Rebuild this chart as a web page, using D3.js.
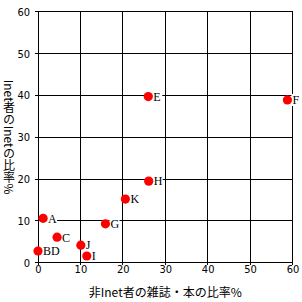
<!DOCTYPE html>
<html>
<head>
<meta charset="utf-8">
<script src="https://cdn.jsdelivr.net/npm/d3@7"></script>
<style>
  body { margin: 0; background: #fff; }
  svg { display: block; }
</style>
</head>
<body>
<svg id="chart" width="302" height="302"></svg>
<script>
// point names and values (non-Inet %, Inet %)
var names = ["A", "B", "C", "D", "E", "F", "G", "H", "I", "J", "K"];
var xVals = [1.2, 0, 4.5, 0, 26.0, 58.8, 15.9, 26.1, 11.5, 10.1, 20.6];
var yVals = [10.6, 2.8, 6.1, 2.8, 39.7, 38.9, 9.3, 19.5, 1.6, 4.2, 15.2];
var xTicks = [0, 10, 20, 30, 40, 50, 60];
var yTicks = [0, 10, 20, 30, 40, 50, 60];
var xTitle = "非Inet者の雑誌・本の比率%";
var yTitle = "Inet者のInetの比率%";

var svg = d3.select("#chart");
// plot box (window.top is taken, so use a margin object)
var m = { left: 38, right: 292.5, top: 11.7, bottom: 262.7 };

var x = d3.scaleLinear().domain([0, 60]).range([m.left, m.right]);
var y = d3.scaleLinear().domain([0, 60]).range([m.bottom, m.top]);

// grid
var grid = svg.append("g")
    .attr("stroke", "#000")
    .attr("stroke-width", 1)
    .attr("shape-rendering", "crispEdges");
grid.selectAll("line.h")
    .data(yTicks)
    .enter().append("line")
    .attr("class", "h")
    .attr("x1", m.left - 3).attr("x2", m.right)
    .attr("y1", function(d) { return y(d); })
    .attr("y2", function(d) { return y(d); });
grid.selectAll("line.v")
    .data(xTicks)
    .enter().append("line")
    .attr("class", "v")
    .attr("y1", m.top).attr("y2", m.bottom + 2)
    .attr("x1", function(d) { return x(d); })
    .attr("x2", function(d) { return x(d); });

// tick labels
var xAxis = svg.append("g")
    .attr("transform", "translate(0," + m.bottom + ")")
    .call(d3.axisBottom(x).tickValues(xTicks).tickSize(0).tickPadding(3));
var yAxis = svg.append("g")
    .attr("transform", "translate(" + m.left + ",0)")
    .call(d3.axisLeft(y).tickValues(yTicks).tickSize(0).tickPadding(8));
[xAxis, yAxis].forEach(function(a) {
    a.select(".domain").remove();
    a.selectAll("text")
        .attr("font-family", "'DejaVu Sans Condensed', 'DejaVu Sans'")
        .attr("font-size", 11)
        .attr("fill", "#000");
});

// merge labels of points sitting on the same spot (B and D)
var pts = [];
names.forEach(function(n, i) {
    var found = pts.find(function(p) { return p.x === xVals[i] && p.y === yVals[i]; });
    if (found) found.label += n;
    else pts.push({ x: xVals[i], y: yVals[i], label: n });
});

// point labels with white boxes
var lab = svg.append("g").selectAll("g")
    .data(pts)
    .enter().append("g")
    .attr("transform", function(d) { return "translate(" + (x(d.x) + 4) + "," + y(d.y) + ")"; });
lab.append("rect")
    .attr("x", 0).attr("y", -6)
    .attr("width", function(d) { return d.label.length * 8 + 2; })
    .attr("height", 12)
    .attr("fill", "#fff");
lab.append("text")
    .attr("x", 1)
    .attr("dy", "0.36em")
    .attr("font-family", "'Liberation Serif', serif")
    .attr("font-size", 12)
    .text(function(d) { return d.label; });

// points
svg.append("g").selectAll("circle")
    .data(pts)
    .enter().append("circle")
    .attr("cx", function(d) { return x(d.x); })
    .attr("cy", function(d) { return y(d.y); })
    .attr("r", 4.6)
    .attr("fill", "#ff0000");

// titles
svg.append("text")
    .attr("x", (m.left + m.right) / 2)
    .attr("y", 293)
    .attr("dy", "0.35em")
    .attr("text-anchor", "middle")
    .attr("font-family", "'Noto Sans CJK JP'")
    .attr("font-size", 12)
    .text(xTitle);
svg.append("text")
    .attr("x", 9)
    .attr("y", (m.top + m.bottom) / 2)
    .attr("text-anchor", "middle")
    .attr("font-family", "'Noto Sans CJK JP'")
    .attr("font-size", 12)
    .style("writing-mode", "vertical-rl")
    .text(yTitle);
</script>
</body>
</html>
